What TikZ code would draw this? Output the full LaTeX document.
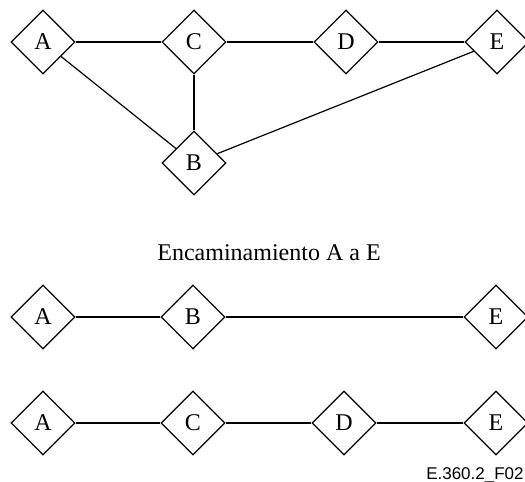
\documentclass[tikz,border=0pt]{standalone}
\usepackage{fontspec}
\setmainfont{Liberation Serif}
\newfontfamily\labelfont{Liberation Sans}
\usetikzlibrary{shapes.geometric}

\begin{document}
\begin{tikzpicture}[
    x=0.5pt, y=-0.5pt,
    exch/.style={draw, diamond, line width=0.6pt, minimum size=32pt,
      inner sep=0pt, font=\fontsize{12}{14}\selectfont},
    link/.style={line width=0.6pt},
    route/.style={line width=0.95pt}
  ]
  \useasboundingbox (0, 0) rectangle (525, 482);

  % network
  \node [exch] (a) at (43, 42) {A};
  \node [exch] (c) at (194, 42) {C};
  \node [exch] (d) at (346, 42) {D};
  \node [exch] (e) at (497, 42) {E};
  \node [exch] (b) at (194, 163) {B};

  % links
  \draw [link] (a) -- (c) -- (d) -- (e);
  \draw [link] (a) -- (b) -- (e);
  \draw [route] (c) -- (b);

  % title
  \node [font=\fontsize{12}{14}\selectfont] (title) at (269, 253) {Encaminamiento A a E};

  % first route
  \foreach \n/\l/\x in {a2/A/43, b2/B/193, e2/E/496} {
    \node [exch] (\n) at (\x, 317) {\l};
  }
  \draw [route] (a2) -- (b2) -- (e2);

  % second route
  \foreach \n/\l/\x in {a3/A/43, c3/C/193, d3/D/344, e3/E/496} {
    \node [exch] (\n) at (\x, 423) {\l};
  }
  \draw [route] (a3) -- (c3) -- (d3) -- (e3);

  % figure label
  \node [font=\labelfont\fontsize{8.5}{10}\selectfont, anchor=base east,
    inner sep=0pt] (fig) at (524, 479) {E.360.2\_F02};
\end{tikzpicture}
\end{document}
